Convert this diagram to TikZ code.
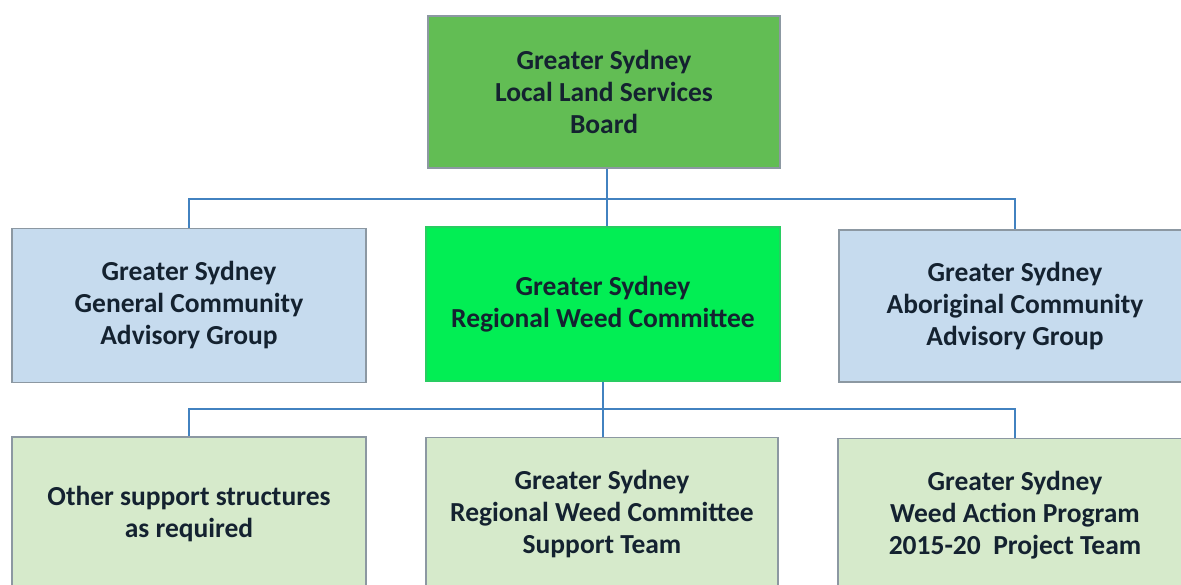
\documentclass[tikz,border=0pt]{standalone}
\usepackage{fontspec}
\setmainfont{Carlito}
\definecolor{topgreen}{RGB}{98,189,84}
\definecolor{brightgreen}{RGB}{2,238,84}
\definecolor{paleblue}{RGB}{198,219,238}
\definecolor{palegreen}{RGB}{214,234,203}
\definecolor{bordergray}{RGB}{140,152,162}
\definecolor{linkblue}{RGB}{66,130,192}
\definecolor{inkdark}{RGB}{20,34,48}
\begin{document}
\begin{tikzpicture}[x=1pt,y=-1pt,
  orgbox/.style={draw=bordergray, line width=1.6pt, align=center, inner sep=0pt,
    text=inkdark, font=\bfseries\fontsize{27.5}{32}\selectfont},
  conn/.style={draw=linkblue, line width=2pt}]
\useasboundingbox (0,0) rectangle (1181,585);
\clip (0,0) rectangle (1181,585);
\fill[white] (0,0) rectangle (1181,585);
% top
\node[orgbox, fill=topgreen, minimum width=352pt, minimum height=152pt] (board) at (604,92)
  {Greater Sydney\\Local Land Services\\Board};
% middle row
\node[orgbox, fill=paleblue, minimum width=354pt, minimum height=154pt] (gen) at (189,305.5)
  {Greater Sydney\\General Community\\Advisory Group};
\node[orgbox, fill=brightgreen, draw=brightgreen!70!gray, minimum width=354pt, minimum height=154pt] (rwc) at (603,304)
  {Greater Sydney\\Regional Weed Committee};
\node[orgbox, fill=paleblue, minimum width=352pt, minimum height=152pt] (abo) at (1015,306)
  {Greater Sydney\\Aboriginal Community\\Advisory Group};
% bottom row
\node[orgbox, fill=palegreen, minimum width=354pt, minimum height=154pt] (other) at (189,514)
  {Other support structures\\as required};
\node[orgbox, fill=palegreen, minimum width=352pt, minimum height=154pt] (sup) at (602,514.5)
  {Greater Sydney\\Regional Weed Committee\\Support Team};
\node[orgbox, fill=palegreen, minimum width=354pt, minimum height=154pt] (wap) at (1015,515.5)
  {Greater Sydney\\Weed Action Program\\2015-20\ \ Project Team};
% connectors
\draw[conn] ([xshift=3pt]board.south) -- ([xshift=3pt]board.south |- rwc.north);
\draw[conn] (gen.north) -- ++(0,-28.5) -| (abo.north);
\draw[conn] (rwc.south) -- (rwc.south |- sup.north);
\draw[conn] (other.north) -- ++(0,-27) -| (wap.north);
\end{tikzpicture}
\end{document}
